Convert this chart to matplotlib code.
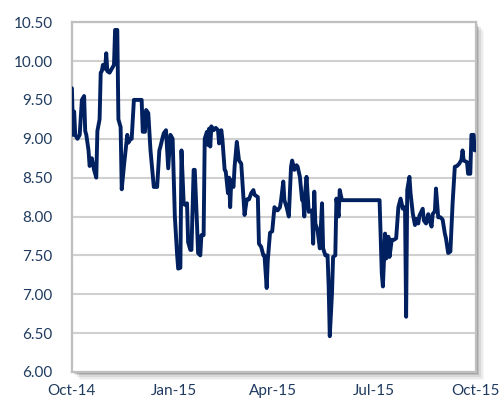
import pandas as pd
import matplotlib.pyplot as plt
import matplotlib.dates as mdates
from matplotlib.patches import Rectangle

# values
dates = [
    '2014-10-01', '2014-10-02', '2014-10-03', '2014-10-04', '2014-10-06', '2014-10-08',
    '2014-10-10', '2014-10-12', '2014-10-13', '2014-10-14', '2014-10-16', '2014-10-17',
    '2014-10-19', '2014-10-21', '2014-10-23', '2014-10-24', '2014-10-26', '2014-10-27',
    '2014-10-28', '2014-10-29', '2014-10-31', '2014-11-01', '2014-11-02', '2014-11-04',
    '2014-11-06', '2014-11-08', '2014-11-09', '2014-11-11', '2014-11-12', '2014-11-14',
    '2014-11-15', '2014-11-17', '2014-11-20', '2014-11-21', '2014-11-23', '2014-11-24',
    '2014-11-26', '2014-12-03', '2014-12-04', '2014-12-06', '2014-12-07', '2014-12-09',
    '2014-12-11', '2014-12-14', '2014-12-17', '2014-12-19', '2014-12-20', '2014-12-22',
    '2014-12-23', '2014-12-25', '2014-12-27', '2014-12-29', '2014-12-31', '2015-01-02',
    '2015-01-04', '2015-01-05', '2015-01-07', '2015-01-08', '2015-01-10', '2015-01-11',
    '2015-01-13', '2015-01-14', '2015-01-16', '2015-01-17', '2015-01-19', '2015-01-20',
    '2015-01-22', '2015-01-23', '2015-01-25', '2015-01-26', '2015-01-28', '2015-01-29',
    '2015-01-31', '2015-02-01', '2015-02-02', '2015-02-03', '2015-02-04', '2015-02-06',
    '2015-02-08', '2015-02-10', '2015-02-11', '2015-02-13', '2015-02-14', '2015-02-16',
    '2015-02-17', '2015-02-19', '2015-02-20', '2015-02-21', '2015-02-22', '2015-02-24',
    '2015-02-25', '2015-02-27', '2015-03-01', '2015-03-03', '2015-03-05', '2015-03-06',
    '2015-03-08', '2015-03-10', '2015-03-12', '2015-03-14', '2015-03-15', '2015-03-18',
    '2015-03-19', '2015-03-21', '2015-03-23', '2015-03-24', '2015-03-26', '2015-03-27',
    '2015-03-29', '2015-03-31', '2015-04-02', '2015-04-04', '2015-04-05', '2015-04-07',
    '2015-04-08', '2015-04-10', '2015-04-11', '2015-04-13', '2015-04-15', '2015-04-17',
    '2015-04-18', '2015-04-20', '2015-04-22', '2015-04-23', '2015-04-25', '2015-04-27',
    '2015-04-28', '2015-04-29', '2015-04-30', '2015-05-01', '2015-05-03', '2015-05-06',
    '2015-05-07', '2015-05-08', '2015-05-09', '2015-05-11', '2015-05-13', '2015-05-15',
    '2015-05-16', '2015-05-18', '2015-05-20', '2015-05-21', '2015-05-22', '2015-05-24',
    '2015-05-25', '2015-05-27', '2015-05-28', '2015-05-30', '2015-05-31', '2015-06-02',
    '2015-07-06', '2015-07-08', '2015-07-09', '2015-07-11', '2015-07-12', '2015-07-14',
    '2015-07-15', '2015-07-17', '2015-07-19', '2015-07-21', '2015-07-23', '2015-07-25',
    '2015-07-27', '2015-07-29', '2015-07-30', '2015-07-31', '2015-08-02', '2015-08-03',
    '2015-08-05', '2015-08-07', '2015-08-08', '2015-08-10', '2015-08-11', '2015-08-14',
    '2015-08-15', '2015-08-17', '2015-08-19', '2015-08-20', '2015-08-22', '2015-08-23',
    '2015-08-25', '2015-08-26', '2015-08-28', '2015-08-30', '2015-09-01', '2015-09-03',
    '2015-09-04', '2015-09-06', '2015-09-08', '2015-09-10', '2015-09-12', '2015-09-14',
    '2015-09-16', '2015-09-18', '2015-09-19', '2015-09-20', '2015-09-23', '2015-09-24',
    '2015-09-26', '2015-09-27', '2015-09-29', '2015-09-30',
]
values = [
    9.65, 9.05, 9.35, 9.05, 9.00, 9.05,
    9.50, 9.55, 9.10, 9.05, 8.85, 8.65,
    8.75, 8.60, 8.50, 9.10, 9.25, 9.85,
    9.87, 9.95, 9.90, 10.10, 9.87, 9.85,
    9.90, 9.95, 10.40, 10.40, 9.25, 9.15,
    8.35, 8.65, 9.05, 8.95, 9.00, 9.00,
    9.50, 9.50, 9.09, 9.09, 9.37, 9.33,
    8.85, 8.38, 8.38, 8.85, 8.90, 9.02,
    9.07, 9.11, 8.62, 9.05, 9.00, 8.00,
    7.52, 7.33, 7.34, 8.85, 8.17, 8.15,
    8.17, 7.67, 7.57, 7.57, 8.60, 8.60,
    7.91, 7.53, 7.50, 7.76, 7.76, 9.00,
    9.09, 8.92, 9.13, 8.90, 9.16, 9.11,
    9.14, 9.11, 8.94, 9.11, 8.99, 8.60,
    8.58, 8.30, 8.50, 8.12, 8.47, 8.38,
    8.64, 8.96, 8.72, 8.68, 8.25, 8.02,
    8.22, 8.22, 8.30, 8.34, 8.28, 8.25,
    7.65, 7.61, 7.50, 7.50, 7.08, 7.44,
    7.79, 7.81, 8.12, 8.08, 8.08, 8.12,
    8.21, 8.45, 8.21, 8.12, 8.00, 8.64,
    8.72, 8.60, 8.66, 8.64, 8.51, 8.21,
    8.21, 8.00, 8.34, 8.51, 8.06, 8.08,
    7.65, 8.32, 7.91, 7.82, 7.59, 8.17,
    7.59, 7.50, 7.50, 7.10, 6.46, 7.01,
    7.48, 7.50, 8.23, 8.00, 8.34, 8.21,
    8.21, 7.27, 7.10, 7.78, 7.46, 7.74,
    7.48, 7.70, 7.70, 7.72, 8.12, 8.23,
    8.10, 8.12, 6.71, 8.34, 8.51, 8.30,
    8.04, 7.89, 7.97, 7.91, 8.01, 8.10,
    7.95, 7.91, 8.03, 7.96, 7.87, 8.03,
    8.07, 8.36, 7.99, 7.99, 7.96, 7.78,
    7.72, 7.53, 7.55, 8.17, 8.64, 8.65,
    8.68, 8.73, 8.85, 8.72, 8.70, 8.55,
    8.55, 9.05, 9.05, 8.85,
]
x_ticks = ['2014-10-01', '2015-01-01', '2015-04-01', '2015-07-01', '2015-10-01']
y_ticks = [6.0, 6.5, 7.0, 7.5, 8.0, 8.5, 9.0, 9.5, 10.0, 10.5]

line_color = '#002060'
text_color = '#1F3B5F'
grid_color = '#D0D0D0'

plt.rcParams['font.family'] = ['Lato', 'DejaVu Sans']

fig = plt.figure(figsize=(5.03, 4.03), dpi=100)
ax = fig.add_axes([0.143, 0.077, 0.803, 0.868])

# soft shadow behind the plot area (right / bottom)
for i, a in enumerate([0.14, 0.11, 0.08, 0.05, 0.03]):
    off = (i + 1) * 1.7
    fig.patches.append(Rectangle((0.143 + off / 503, 0.077 - off / 403), 0.803, 0.868,
                                 transform=fig.transFigure, facecolor='black', alpha=a,
                                 edgecolor='none', zorder=-1))
ax.set_facecolor('white')

x = pd.to_datetime(dates)
ax.plot(x, values, color=line_color, linewidth=2.8, solid_joinstyle='round',
        solid_capstyle='round', zorder=3)

ax.set_xlim(pd.Timestamp(x_ticks[0]), pd.Timestamp(x_ticks[-1]))
ax.set_ylim(6.0, 10.5)
ax.set_yticks(y_ticks)
ax.set_yticklabels(['%.2f' % v for v in y_ticks])
ax.set_xticks(pd.to_datetime(x_ticks))
ax.xaxis.set_major_formatter(mdates.DateFormatter('%b-%y'))

ax.grid(axis='y', color=grid_color, linewidth=1.5, zorder=0)
ax.set_axisbelow(True)
for s in ax.spines.values():
    s.set_color('#BFBFBF')
    s.set_linewidth(1.6)

ax.tick_params(axis='both', length=0, labelsize=11, colors=text_color)
ax.tick_params(axis='y', pad=14)
ax.tick_params(axis='x', pad=9)

fig.savefig('out.png', dpi=100)
